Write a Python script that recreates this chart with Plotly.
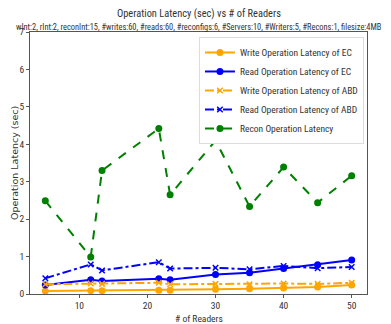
import plotly.graph_objects as go

readers = [5, 11.67, 13.33, 21.67, 23.33, 30, 35, 40, 45, 50]
write_ec = [0.08, 0.09, 0.09, 0.10, 0.10, 0.13, 0.14, 0.16, 0.19, 0.24]
read_ec = [0.24, 0.38, 0.35, 0.41, 0.38, 0.52, 0.57, 0.68, 0.78, 0.91]
write_abd = [0.26, 0.28, 0.27, 0.30, 0.26, 0.27, 0.26, 0.28, 0.27, 0.30]
read_abd = [0.42, 0.79, 0.63, 0.85, 0.68, 0.70, 0.66, 0.75, 0.69, 0.72]
recon = [2.49, 0.99, 3.30, 4.42, 2.65, 4.10, 2.34, 3.39, 2.44, 3.16]

x_ticks = [10, 20, 30, 40, 50]
y_ticks = [0, 1, 2, 3, 4, 5, 6, 7]

title = "Operation Latency (sec) vs # of Readers"
subtitle = ("wInt:2, rInt:2, reconInt:15, #writes:60, #reads:60, #reconfigs:6, "
            "#Servers:10, #Writers:5, #Recons:1, filesize:4MB")
x_title = "# of Readers"
y_title = "Operation Latency (sec)"

ORANGE = "#FFA500"
BLUE = "#0000FF"
GREEN = "#008000"

series = [
    ("Write Operation Latency of EC", write_ec, ORANGE, "solid", "circle"),
    ("Read Operation Latency of EC", read_ec, BLUE, "solid", "circle"),
    ("Write Operation Latency of ABD", write_abd, ORANGE, "dashdot", "x-thin"),
    ("Read Operation Latency of ABD", read_abd, BLUE, "dashdot", "x-thin"),
    ("Recon Operation Latency", recon, GREEN, "dash", "circle"),
]

fig = go.Figure()
for name, vals, col, dash, sym in series:
    fig.add_trace(go.Scatter(
        x=readers, y=vals, name=name, mode="lines+markers",
        line=dict(color=col, width=2, dash=dash),
        marker=dict(symbol=sym, size=5.5, color=col,
                    line=dict(color=col, width=1.5)),
    ))

font = "Roboto Condensed, DejaVu Sans Condensed, sans-serif"
fig.update_layout(
    width=383, height=316,
    margin=dict(l=22, r=24, t=24, b=30, autoexpand=False),
    paper_bgcolor="white", plot_bgcolor="white",
    font=dict(family=font, size=10, color="#333"),
    showlegend=True,
    legend=dict(x=0.991, y=0.981, xanchor="right", yanchor="top",
                bordercolor="#dddddd", borderwidth=1, bgcolor="white",
                font=dict(size=9.5), tracegroupgap=0, itemwidth=30),
    annotations=[
        dict(text=title, x=0.5, y=1, xref="paper", yref="paper",
             xanchor="center", yanchor="middle", showarrow=False,
             font=dict(size=10.4), yshift=19),
        dict(text=subtitle, x=0.5, y=1, xref="paper", yref="paper",
             xanchor="center", yanchor="middle", showarrow=False,
             font=dict(size=8.4), yshift=5, xshift=0),
        dict(text=x_title, x=0.5, y=0, xref="paper", yref="paper",
             xanchor="center", yanchor="middle", showarrow=False,
             font=dict(size=9.5), yshift=-24),
        dict(text=y_title, x=0, y=0.5, xref="paper", yref="paper",
             xanchor="center", yanchor="middle", showarrow=False, textangle=-90,
             font=dict(size=9.5, family="DejaVu Sans, sans-serif"), xshift=-16),
    ],
    xaxis=dict(range=[2.75, 52.25], tickvals=x_ticks,
               showline=True, mirror=True, linecolor="#555", linewidth=1,
               ticks="outside", ticklen=3, tickcolor="#555", showgrid=False,
               zeroline=False, tickfont=dict(size=9.5)),
    yaxis=dict(range=[0, 7], tickvals=y_ticks,
               showline=True, mirror=True, linecolor="#555", linewidth=1,
               ticks="outside", ticklen=3, tickcolor="#555", showgrid=False,
               zeroline=False, tickfont=dict(size=9.5)),
)
fig.write_html("out.html")
